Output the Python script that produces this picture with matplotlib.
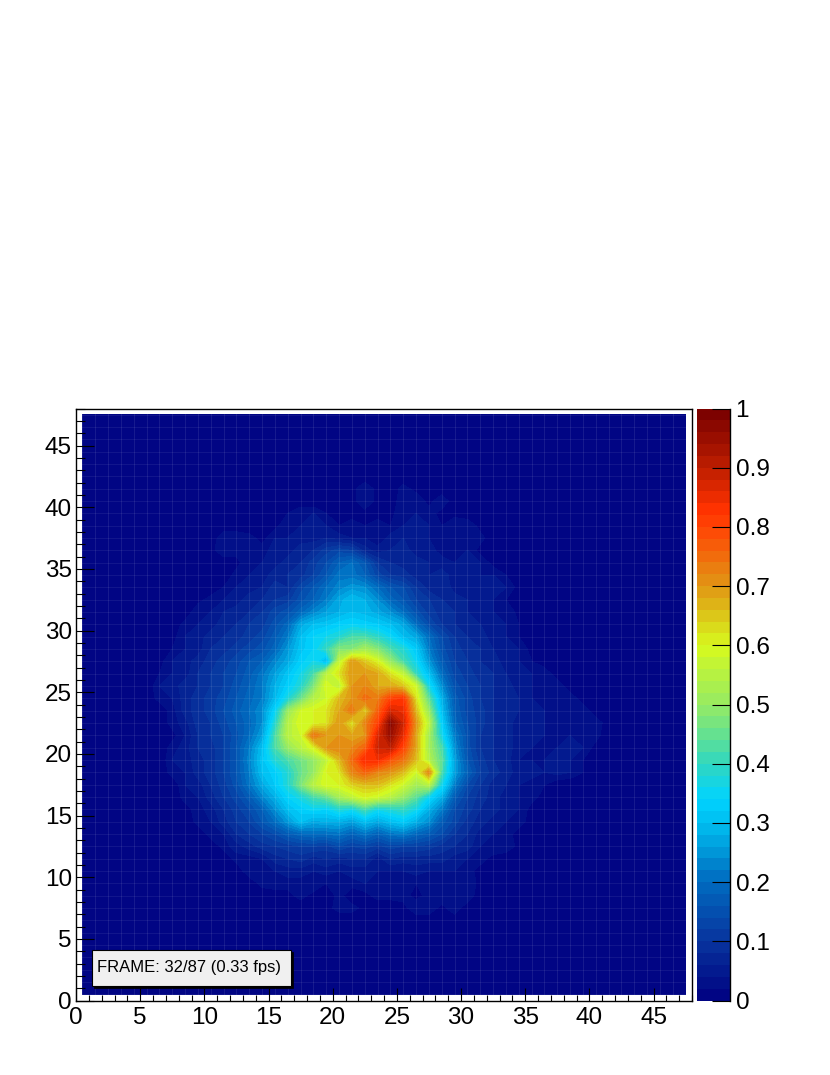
import numpy as np
import matplotlib
matplotlib.use("Agg")
import matplotlib.pyplot as plt
from matplotlib.colors import LinearSegmentedColormap, ListedColormap, BoundaryNorm
from matplotlib.patches import Rectangle
from matplotlib.ticker import MultipleLocator

plt.rcParams['font.family'] = ['Liberation Sans', 'DejaVu Sans']

frame_label = "FRAME: 32/87 (0.33 fps)"
n_bins = 48
n_levels = 50
x_ticks = list(range(0, 50, 5))
y_ticks = list(range(0, 50, 5))
cbar_ticks = [0, 0.1, 0.2, 0.3, 0.4, 0.5, 0.6, 0.7, 0.8, 0.9, 1]
cbar_labels = ['0', '0.1', '0.2', '0.3', '0.4', '0.5', '0.6', '0.7', '0.8', '0.9', '1']

palette_stops = [0, 0.03, 0.1, 0.2, 0.3, 0.34, 0.4, 0.5, 0.6, 0.7, 0.8, 0.83, 0.9, 1.0]
palette_rgb = [(0, 0, 130), (2, 18, 138), (8, 52, 158), (0, 108, 192), (0, 190, 240), (0, 212, 255),
               (50, 215, 190), (150, 235, 100), (215, 250, 30), (225, 150, 20),
               (255, 70, 5), (255, 50, 0), (190, 30, 0), (120, 0, 0)]

# (bin row y, first bin column x, values in hundredths)
y41 = (41, 21, [1, 4, 1, 0, 3, 1])
y40 = (40, 21, [1, 4, 1, 0, 4, 4, 1, 4])
y39 = (39, 16, [2, 4, 4, 2, 1, 1, 1, 1, 1, 4, 4, 3, 1, 1])
y38 = (38, 15, [1, 4, 4, 5, 4, 2, 3, 2, 3, 2, 4, 5, 4, 2, 4, 4, 1])
y37 = (37, 11, [4, 4, 3, 1, 4, 4, 5, 5, 6, 5, 4, 4, 2, 5, 6, 5, 4, 4, 2, 4, 3])
y36 = (36, 10, [1, 4, 3, 2, 3, 5, 5, 7, 8, 11, 13, 12, 7, 5, 6, 7, 5, 5, 3, 4, 4, 1])
y35 = (35, 12, [1, 4, 4, 5, 7, 8, 11, 14, 18, 20, 16, 10, 8, 7, 7, 6, 5, 4, 5, 4, 1])
y34 = (34, 12, [3, 4, 5, 7, 8, 9, 12, 16, 21, 21, 18, 13, 10, 9, 7, 6, 7, 5, 5, 4, 4, 2])
y33 = (33, 11, [2, 4, 5, 6, 9, 8, 13, 16, 20, 23, 25, 24, 20, 16, 14, 10, 7, 8, 5, 5, 5, 5, 4, 1])
y32 = (32, 9, [1, 3, 4, 5, 7, 8, 10, 11, 15, 18, 22, 27, 30, 28, 24, 19, 16, 12, 10, 8, 7, 6, 5, 4, 2])
y31 = (31, 9, [4, 4, 6, 7, 8, 10, 13, 15, 19, 23, 26, 28, 30, 29, 27, 24, 20, 15, 11, 9, 8, 6, 5, 4, 4, 1])
y30 = (30, 8, [3, 4, 5, 7, 8, 10, 11, 15, 19, 27, 30, 31, 33, 34, 33, 32, 30, 27, 20, 14, 10, 8, 7, 6, 5, 4, 2])
y29 = (29, 7, [1, 4, 5, 7, 8, 9, 11, 13, 17, 22, 30, 34, 36, 38, 42, 42, 39, 35, 30, 27, 20, 14, 10, 8, 7, 5, 4, 2])
y28 = (28, 7, [2, 4, 5, 8, 9, 11, 13, 15, 19, 25, 31, 34, 40, 48, 48, 52, 48, 42, 38, 32, 22, 15, 11, 9, 8, 6, 5, 4, 1])
y27 = (27, 6, [1, 4, 5, 7, 9, 11, 13, 16, 18, 23, 27, 33, 36, 28, 56, 70, 65, 60, 50, 42, 35, 25, 17, 12, 10, 8, 7, 5, 4, 2, 1])
y26 = (26, 6, [2, 4, 5, 8, 10, 12, 14, 17, 21, 26, 31, 36, 42, 55, 62, 70, 70, 68, 62, 56, 40, 30, 20, 13, 11, 9, 8, 6, 5, 4, 3, 1])
y25 = (25, 6, [4, 5, 7, 8, 10, 12, 15, 18, 22, 28, 33, 38, 47, 60, 55, 70, 72, 68, 68, 65, 58, 36, 24, 15, 12, 10, 8, 7, 5, 4, 4, 3, 1])
y24 = (24, 6, [3, 4, 7, 9, 11, 13, 16, 19, 22, 29, 37, 45, 54, 58, 66, 70, 75, 73, 80, 82, 62, 44, 28, 17, 13, 10, 8, 7, 6, 4, 4, 4, 3, 1])
y23 = (23, 7, [3, 7, 9, 11, 14, 17, 20, 24, 34, 50, 58, 60, 62, 68, 74, 64, 76, 87, 85, 66, 50, 30, 18, 13, 11, 8, 7, 6, 5, 4, 4, 4, 3, 1])
y22 = (22, 7, [3, 5, 9, 10, 13, 16, 19, 24, 38, 54, 60, 60, 62, 70, 62, 72, 80, 97, 88, 70, 55, 33, 19, 14, 11, 8, 7, 5, 5, 4, 4, 4, 4, 3, 1])
y21 = (21, 7, [1, 4, 8, 10, 12, 15, 20, 26, 42, 55, 58, 74, 70, 70, 68, 70, 86, 95, 85, 68, 52, 36, 22, 15, 10, 8, 7, 5, 6, 4, 4, 4, 4, 3])
y20 = (20, 7, [3, 5, 8, 9, 12, 16, 22, 30, 42, 50, 55, 60, 70, 72, 72, 76, 88, 90, 80, 68, 52, 42, 24, 15, 10, 8, 7, 5, 4, 4, 4, 5, 4, 1])
y19 = (19, 7, [4, 5, 7, 9, 12, 16, 23, 31, 38, 42, 46, 50, 56, 66, 75, 84, 84, 78, 74, 66, 54, 44, 26, 16, 11, 8, 7, 4, 4, 4, 5, 4, 2])
y18 = (18, 7, [3, 4, 7, 9, 12, 16, 22, 30, 33, 38, 45, 50, 60, 62, 72, 76, 72, 70, 66, 58, 72, 42, 26, 18, 12, 9, 7, 5, 5, 4, 5, 4, 2])
y17 = (17, 8, [4, 5, 8, 11, 15, 21, 27, 32, 38, 47, 55, 60, 60, 64, 66, 66, 62, 58, 52, 55, 36, 22, 14, 10, 7, 6, 4, 3, 2])
y16 = (16, 8, [3, 4, 7, 10, 13, 17, 23, 28, 34, 37, 42, 45, 52, 56, 60, 58, 55, 50, 44, 35, 28, 17, 12, 9, 7, 5, 4, 3, 1])
y15 = (15, 8, [1, 3, 5, 8, 11, 14, 18, 24, 30, 33, 35, 34, 38, 36, 42, 36, 38, 40, 36, 28, 22, 14, 11, 8, 7, 5, 4, 1])
y14 = (14, 9, [3, 4, 7, 10, 12, 16, 20, 25, 30, 27, 28, 28, 26, 30, 27, 30, 32, 28, 24, 17, 13, 9, 7, 5, 4, 3, 1])
y13 = (13, 10, [3, 4, 8, 10, 12, 14, 17, 19, 20, 20, 21, 18, 21, 18, 21, 22, 19, 17, 14, 10, 8, 5, 4, 3, 1])
y12 = (12, 11, [3, 5, 7, 9, 10, 11, 12, 12, 11, 14, 12, 13, 11, 13, 12, 12, 11, 9, 8, 7, 4, 4, 4, 1])
y11 = (11, 12, [3, 3, 4, 7, 8, 9, 7, 8, 7, 8, 8, 5, 8, 7, 7, 7, 7, 5, 4, 3, 1])
y10 = (10, 13, [4, 4, 4, 5, 5, 4, 5, 4, 5, 5, 4, 4, 4, 5, 4, 4, 4, 3, 1])
y9 = (9, 14, [3, 4, 3, 3, 4, 2, 4, 3, 4, 4, 3, 4, 2, 4, 4, 3, 4, 1])
y8 = (8, 16, [1, 3, 1, 0, 3, 0, 1, 3, 3, 3, 1, 3, 4, 3, 4])
y7 = (7, 19, [1, 3, 3, 1, 0, 0, 1, 4, 4, 1, 4])
intensity_rows = [y41, y40, y39, y38, y37, y36, y35, y34, y33, y32, y31, y30, y29, y28, y27, y26, y25,
                  y24, y23, y22, y21, y20, y19, y18, y17, y16, y15, y14, y13, y12, y11, y10, y9, y8, y7]

grid = np.zeros((n_bins, n_bins))
for row, start, vals in intensity_rows:
    grid[row, start:start + len(vals)] = np.array(vals) / 100.0
centres = np.arange(n_bins) + 0.5

W, H = 830, 1075
fig = plt.figure(figsize=(W / 100, H / 100), dpi=100, facecolor='white')
ax = fig.add_axes([76 / W, 1 - 1000.5 / H, 616 / W, 592 / H])
cax = fig.add_axes([697 / W, 1 - 1000.5 / H, 33 / W, 592 / H])

smooth = LinearSegmentedColormap.from_list(
    'root', [(s, tuple(c / 255 for c in rgb)) for s, rgb in zip(palette_stops, palette_rgb)])
levels = np.linspace(0, 1, n_levels + 1)
cmap = ListedColormap(smooth((levels[:-1] + levels[1:]) / 2))
norm = BoundaryNorm(levels, cmap.N)

cf = ax.contourf(centres, centres, grid, levels=levels, cmap=cmap, norm=norm, extend='neither')

for c in centres:
    ax.axvline(c, color='white', alpha=0.10, lw=0.6, zorder=2)
    ax.axhline(c, color='white', alpha=0.08, lw=0.6, zorder=2)

ax.set_xlim(0, n_bins)
ax.set_ylim(0, n_bins)
ax.set_xticks(x_ticks)
ax.set_yticks(y_ticks)
ax.xaxis.set_minor_locator(MultipleLocator(1))
ax.yaxis.set_minor_locator(MultipleLocator(1))
ax.tick_params(axis='x', which='major', direction='in', length=9.2, width=0.8, labelsize=17.5, pad=5)
ax.tick_params(axis='x', which='minor', direction='in', length=4.6, width=0.8)
ax.tick_params(axis='y', which='major', direction='in', length=13, width=0.8, labelsize=17.5, pad=3)
ax.tick_params(axis='y', which='minor', direction='in', length=6.5, width=0.8)
for s in ax.spines.values():
    s.set_linewidth(1.0)
    s.set_zorder(6)
ax.set_axisbelow(False)

# label box with drop shadow, in axes fractions
bx0, bx1 = (92 - 76) / 616, (291 - 76) / 616
by0, by1 = (1000 - 985) / 592, (1000 - 949) / 592
ax.add_patch(Rectangle((bx0 + 2 / 616, by0 - 2 / 592), bx1 - bx0, by1 - by0, transform=ax.transAxes,
                       facecolor='black', edgecolor='black', lw=0.5, zorder=7))
ax.add_patch(Rectangle((bx0, by0), bx1 - bx0, by1 - by0, transform=ax.transAxes,
                       facecolor='#f0f0f0', edgecolor='black', lw=0.8, zorder=8))
ax.text((97 - 76) / 616, (by0 + by1) / 2, frame_label, transform=ax.transAxes, ha='left', va='center',
        fontsize=12.0, color='black', zorder=9)

cb = fig.colorbar(cf, cax=cax, ticks=cbar_ticks, drawedges=False)
cb.ax.set_yticklabels(cbar_labels)
cb.ax.tick_params(axis='y', which='major', direction='in', length=13, width=0.8, labelsize=17.5, pad=4,
                  right=True, left=False)
cb.ax.minorticks_off()
cb.outline.set_visible(False)
cax.plot([1, 1], [0, 1], transform=cax.transAxes, color='black', lw=1.0, clip_on=False, zorder=6)

fig.savefig('out.png', dpi=100, facecolor='white')
